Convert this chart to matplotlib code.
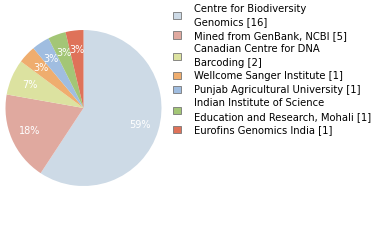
import matplotlib
matplotlib.use("Agg")
import matplotlib.pyplot as plt
from matplotlib.patches import Patch

# data
labels = [
    "Centre for Biodiversity\nGenomics [16]",
    "Mined from GenBank, NCBI [5]",
    "Canadian Centre for DNA\nBarcoding [2]",
    "Wellcome Sanger Institute [1]",
    "Punjab Agricultural University [1]",
    "Indian Institute of Science\nEducation and Research, Mohali [1]",
    "Eurofins Genomics India [1]",
]
counts = [16, 5, 2, 1, 1, 1, 1]
colors = ["#cddae6", "#e0a99f", "#dce2a0", "#efad6e", "#a0bde0", "#a3c676", "#df7259"]

fig = plt.figure(figsize=(3.8, 2.4), dpi=100)
ax = fig.add_axes([5.5 / 380, 1 - 186 / 240, 156 / 380, 156 / 240])

wedges, texts, autotexts = ax.pie(
    counts, colors=colors, startangle=90, counterclock=False,
    autopct=lambda p: "%d%%" % int(p), pctdistance=0.75,
    wedgeprops=dict(linewidth=0), radius=1.0,
    textprops=dict(color="white", fontsize=7),
)
ax.set_xlim(-1, 1)
ax.set_ylim(-1, 1)
ax.set_aspect("equal")
ax.axis("off")

handles = [Patch(facecolor=c, edgecolor="#777777", linewidth=0.6) for c in colors]
leg = fig.legend(handles, labels, loc="upper left", bbox_to_anchor=(173 / 380, 1 - 3.5 / 240),
                 frameon=False, fontsize=7.2, handlelength=0.75, handleheight=0.75,
                 labelspacing=0.35, handletextpad=1.3, borderaxespad=0, borderpad=0)
for t in leg.get_texts():
    t.set_linespacing(1.45)

fig.savefig("out.png", dpi=100)
